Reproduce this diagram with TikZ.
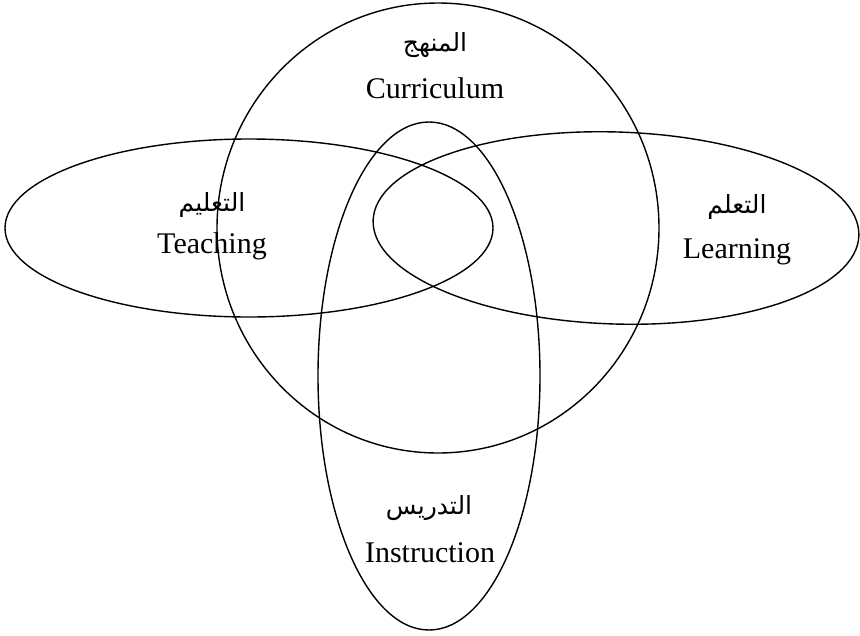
\documentclass[tikz,border=0pt]{standalone}
\usepackage{fontspec}
\setmainfont{Liberation Serif}
\newfontfamily\arabicfont[Script=Arabic]{DejaVu Sans}
\TeXXeTstate=1
\tikzset{
  ring/.style={draw=black, line width=1.4pt},
  entext/.style={font=\fontsize{30}{32}\selectfont, anchor=base, inner sep=0pt},
  artext/.style={font=\arabicfont\fontsize{25}{28}\selectfont, anchor=center, inner sep=0pt}
}
\begin{document}
\begin{tikzpicture}[x=1pt,y=-1pt]
\useasboundingbox[fill=white] (0,0) rectangle (860,635);
% shapes
\draw[ring] (438,228) ellipse [x radius=221, y radius=225];
\draw[ring] (249,228) ellipse [x radius=244, y radius=89];
\draw[ring, rotate around={-1.8:(616,228)}] (616,228) ellipse [x radius=243, y radius=96];
\draw[ring] (429,376) ellipse [x radius=111, y radius=254];
% labels
\node[artext] (curar) at (435,45) {\beginR المنهج\endR};
\node[entext] (curen) at (435,98) {Curriculum};
\node[artext] (teaar) at (212,205) {\beginR التعليم\endR};
\node[entext] (teaen) at (212,253) {Teaching};
\node[artext] (leaar) at (737,207) {\beginR التعلم\endR};
\node[entext] (leaen) at (737,258) {Learning};
\node[artext] (insar) at (429,508) {\beginR التدريس\endR};
\node[entext] (insen) at (430,562) {Instruction};
\end{tikzpicture}
\end{document}
